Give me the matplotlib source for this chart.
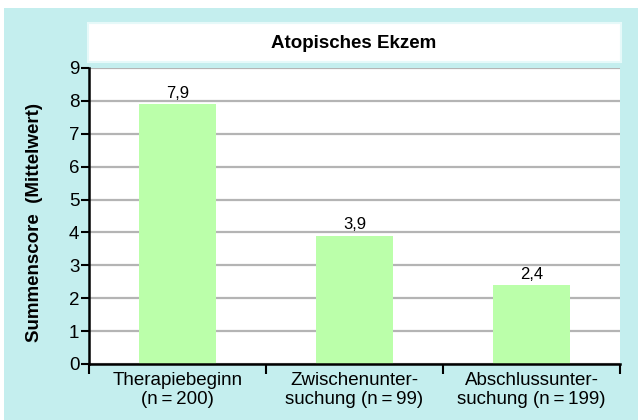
import matplotlib
matplotlib.use("Agg")
import matplotlib.pyplot as plt
from matplotlib.patches import Rectangle

plt.rcParams["font.family"] = ["Liberation Sans", "DejaVu Sans"]

# Daten
categories = ["Therapiebeginn\n(n\u2009=\u2009200)",
              "Zwischenunter-\nsuchung (n\u2009=\u200999)",
              "Abschlussunter-\nsuchung (n\u2009=\u2009199)"]
values = [7.9, 3.9, 2.4]
value_labels = ["7,9", "3,9", "2,4"]
yticks = list(range(0, 10))

CYAN = "#c4eeee"
GREEN = "#bbffaa"
GRID = "#b4b4b4"

fig = plt.figure(figsize=(6.38, 4.2), dpi=100, facecolor="white")

# cyan background panel
fig.patches.append(Rectangle((4 / 638, 0), 634 / 638, 412 / 420,
                             transform=fig.transFigure, facecolor=CYAN,
                             edgecolor="none", zorder=-2))
# title box
fig.patches.append(Rectangle((88 / 638, 1 - 62 / 420), 533 / 638, 39 / 420,
                             transform=fig.transFigure, facecolor="white",
                             edgecolor="#e6f9f9", linewidth=1.5, zorder=-1))
fig.text(354 / 638, 1 - 43 / 420, "Atopisches Ekzem", ha="center", va="center",
         fontsize=13.5, fontweight="bold")

ax = fig.add_axes([89 / 638, 1 - 364 / 420, 531 / 638, 296 / 420])
ax.set_facecolor("white")

x = range(len(values))
bars = ax.bar(x, values, width=0.43, color=GREEN, zorder=2)
for xi, v, lab in zip(x, values, value_labels):
    ax.text(xi, v + 0.1, lab, ha="center", va="bottom", fontsize=12)

ax.set_xlim(-0.5, 2.5)
ax.set_ylim(0, 9)
ax.set_yticks(yticks)
ax.yaxis.grid(True, color=GRID, linewidth=1.6, zorder=0)
ax.set_axisbelow(True)

ax.set_xticks(list(x))
ax.set_xticklabels(categories, fontsize=13.5, linespacing=1.1)
ax.set_xticks([-0.5, 0.5, 1.5, 2.5], minor=True)
ax.tick_params(axis="x", which="major", length=0, pad=6)
ax.tick_params(axis="x", which="minor", length=7, width=1.5, direction="out")
ax.tick_params(axis="y", length=6, width=1.5, direction="out", pad=1,
               labelsize=13.5)

for s in ["top", "right"]:
    ax.spines[s].set_visible(False)
for s in ["left", "bottom"]:
    ax.spines[s].set_linewidth(1.8)
    ax.spines[s].set_color("black")

fig.text(35 / 638, 1 - 222 / 420, "Summenscore  (Mittelwert)", rotation=90,
         ha="center", va="center", fontsize=13.5, fontweight="bold")

fig.savefig("out.png", dpi=100, facecolor="white")
